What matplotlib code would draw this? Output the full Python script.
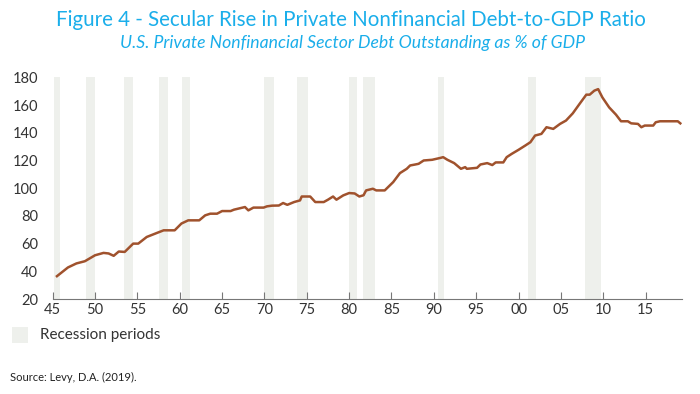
import matplotlib
matplotlib.use('Agg')
import matplotlib.pyplot as plt
from matplotlib.patches import Rectangle

# debt-to-GDP ratio (% of GDP)
years = [1945.5, 1946.8, 1947.8, 1948.8, 1950.0, 1951.0, 1951.6, 1952.2, 1952.8, 1953.5,
         1954.5, 1955.1, 1956.1, 1957.3, 1958.1, 1959.4, 1960.2, 1961.0, 1962.3, 1963.0,
         1963.6, 1964.4, 1965.0, 1966.0, 1966.4, 1967.7, 1968.1, 1968.7, 1969.9, 1970.3,
         1970.9, 1971.7, 1972.2, 1972.7, 1973.5, 1974.2, 1974.4, 1975.4, 1976.0, 1977.0,
         1977.5, 1978.1, 1978.5, 1979.3, 1980.0, 1980.65, 1981.2, 1981.7, 1982.0, 1982.8,
         1983.2, 1984.2, 1985.2, 1986.0, 1986.8, 1987.2, 1987.8, 1988.2, 1988.8, 1989.8,
         1990.8, 1991.1, 1991.6, 1992.4, 1993.2, 1993.7, 1993.9, 1995.1, 1995.5, 1996.3,
         1996.9, 1997.3, 1998.2, 1998.6, 1999.2, 2000.0, 2000.8, 2001.4, 2001.95, 2002.7,
         2003.3, 2004.1, 2004.9, 2005.6, 2006.4, 2007.2, 2008.0, 2008.4, 2008.95, 2009.4,
         2009.9, 2010.7, 2011.5, 2012.1, 2012.9, 2013.3, 2014.1, 2014.5, 2014.9, 2015.9,
         2016.2, 2016.7, 2017.3, 2018.3, 2018.8, 2019.1]
ratio = [36.5, 42.8, 45.7, 47.3, 51.6, 53.3, 52.9, 51.2, 54.3, 54.0,
         60.0, 60.0, 64.8, 67.7, 69.6, 69.6, 74.5, 76.8, 76.8, 80.4,
         81.6, 81.6, 83.5, 83.5, 84.5, 86.4, 84.0, 86.0, 86.0, 86.9,
         87.4, 87.5, 89.3, 88.0, 90.0, 91.2, 94.0, 94.0, 90.0, 90.0,
         91.7, 94.0, 91.7, 94.8, 96.5, 96.2, 94.0, 94.9, 98.4, 99.6,
         98.4, 98.4, 104.4, 110.9, 114.0, 116.4, 117.1, 117.6, 120.0, 120.5,
         121.9, 122.4, 120.5, 118.1, 114.0, 115.2, 114.0, 114.7, 117.1, 118.1,
         116.7, 118.6, 118.6, 122.4, 124.8, 127.7, 130.8, 133.2, 138.0, 139.2,
         144.0, 142.8, 146.4, 148.8, 154.0, 160.8, 167.5, 167.5, 170.4, 171.5,
         165.5, 158.3, 153.1, 148.3, 148.3, 146.8, 146.4, 144.0, 145.2, 145.2,
         147.6, 148.3, 148.3, 148.3, 148.3, 146.8]

# recession periods (start, end)
rec_start = [1945.1, 1948.9, 1953.4, 1957.5, 1960.3, 1969.9, 1973.8, 1980.0, 1981.6, 1990.5, 2001.1, 2007.9]
rec_end = [1945.9, 1950.0, 1954.5, 1958.6, 1961.2, 1971.1, 1975.2, 1980.9, 1983.0, 1991.2, 2002.1, 2009.7]

xticks = [1945 + 5 * i for i in range(15)]
xlabels = ['45', '50', '55', '60', '65', '70', '75', '80', '85', '90', '95', '00', '05', '10', '15']
yticks = [20, 40, 60, 80, 100, 120, 140, 160, 180]

band_col = '#EEF0EC'
line_col = '#A0522D'
title_col = '#1AAEEA'
txt_col = '#333333'

plt.rcParams['font.family'] = ['Lato', 'DejaVu Sans']

fig = plt.figure(figsize=(7, 3.94), dpi=100)
ax = fig.add_axes([0.0753, 0.241, 0.899, 0.5627])

for s, e in zip(rec_start, rec_end):
    ax.axvspan(s, e, color=band_col, lw=0, zorder=0)

ax.plot(years, ratio, color=line_col, lw=1.8, zorder=3)

ax.set_xlim(1945, 2019.3)
ax.set_ylim(20, 180)
ax.set_xticks(xticks)
ax.set_xticklabels(xlabels)
ax.set_yticks(yticks)
for sp in ['left', 'right', 'top']:
    ax.spines[sp].set_visible(False)
ax.spines['bottom'].set_color('#777777')
ax.tick_params(axis='x', direction='in', length=5, color='#777777', labelsize=10.5,
               labelcolor=txt_col, pad=3)
ax.tick_params(axis='y', length=0, labelsize=10.5, labelcolor=txt_col, pad=10.5)

fig.text(0.502, 1 - 26 / 394, 'Figure 4 - Secular Rise in Private Nonfinancial Debt-to-GDP Ratio',
         ha='center', va='baseline', color=title_col, fontsize=14.8)
fig.text(0.503, 1 - 48 / 394, 'U.S. Private Nonfinancial Sector Debt Outstanding as % of GDP',
         ha='center', va='baseline', color=title_col, fontsize=12.7, style='italic')

fig.patches.append(Rectangle((12 / 700, 1 - 343 / 394), 16 / 700, 16 / 394,
                             transform=fig.transFigure, color=band_col, lw=0))
fig.text(40 / 700, 1 - 335 / 394, 'Recession periods', ha='left', va='center',
         color=txt_col, fontsize=11)
fig.text(10 / 700, 1 - 377 / 394, 'Source: Levy, D.A. (2019).', ha='left', va='center',
         color='#222222', fontsize=8)

fig.savefig('out.png', dpi=100)
